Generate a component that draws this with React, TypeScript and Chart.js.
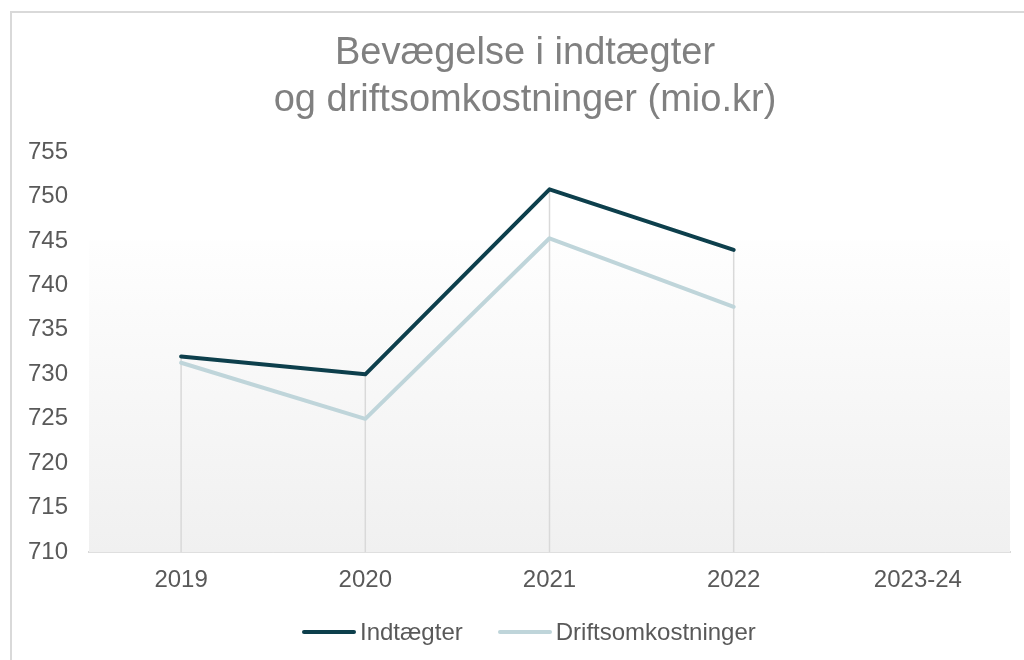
import React, { useEffect, useRef } from "react";
import { Chart, registerables } from "chart.js";

Chart.register(...registerables);

const categories = ["2019", "2020", "2021", "2022", "2023-24"];
const indtaegter = [732, 730, 750.8, 744, null];
const driftsomkostninger = [731.3, 725, 745.3, 737.6, null];
const bandLevel = [745, 745, 745, 745, 745];
const yMin = 710;
const yMax = 755;
const yStep = 5;
const titleLines = ["Bevægelse i indtægter", "og driftsomkostninger (mio.kr)"];
const seriesNames = ["Indtægter", "Driftsomkostninger"];
const seriesColors = ["#0d3f4c", "#bfd5da"];

const FONT = '"Liberation Sans", Arial, sans-serif';

const dropLines = {
  id: "dropLines",
  afterDatasetDraw(chart: any, args: any) {
    if (args.index !== 0) return;
    const ctx = chart.ctx;
    const bottom = chart.scales.y.bottom;
    const n = chart.data.labels.length;
    ctx.save();
    ctx.strokeStyle = "#d9d9d9";
    ctx.lineWidth = 1.5;
    for (let j = 0; j < n; j++) {
      let topY = Infinity;
      let x: number | null = null;
      [1, 2].forEach((di) => {
        const v = chart.data.datasets[di].data[j];
        if (v == null) return;
        const pt = chart.getDatasetMeta(di).data[j];
        topY = Math.min(topY, pt.y);
        x = pt.x;
      });
      if (x == null) continue;
      ctx.beginPath();
      ctx.moveTo(x, topY);
      ctx.lineTo(x, bottom);
      ctx.stroke();
    }
    ctx.restore();
  },
};

// let the y tick labels extend left of the (narrow) y-axis box without being clipped
const widenYLabelArea = {
  id: "widenYLabelArea",
  afterLayout(chart: any) {
    chart.scales.y.left = 0;
  },
};

export default function App() {
  const ref = useRef<HTMLCanvasElement>(null);

  useEffect(() => {
    if (!ref.current) return;
    const chart = new Chart(ref.current, {
      type: "bar",
      data: {
        labels: categories,
        datasets: [
          {
            type: "bar",
            label: "band",
            data: bandLevel,
            order: 3,
            barPercentage: 1,
            categoryPercentage: 1,
            borderWidth: 0,
            backgroundColor: (c: any) => {
              const ch = c.chart;
              const area = ch.chartArea;
              if (!area) return "#f6f6f6";
              const top = ch.scales.y.getPixelForValue(bandLevel[0]);
              const g = ch.ctx.createLinearGradient(0, top, 0, area.bottom);
              g.addColorStop(0, "#fefefe");
              g.addColorStop(1, "#f0f0f0");
              return g;
            },
          } as any,
          {
            type: "line",
            label: seriesNames[0],
            data: indtaegter,
            order: 1,
            borderColor: seriesColors[0],
            backgroundColor: seriesColors[0],
            borderWidth: 4,
            pointRadius: 0,
            borderJoinStyle: "round",
            borderCapStyle: "round",
            tension: 0,
          } as any,
          {
            type: "line",
            label: seriesNames[1],
            data: driftsomkostninger,
            order: 2,
            borderColor: seriesColors[1],
            backgroundColor: seriesColors[1],
            borderWidth: 4,
            pointRadius: 0,
            borderJoinStyle: "round",
            borderCapStyle: "round",
            tension: 0,
          } as any,
        ],
      },
      options: {
        responsive: false,
        animation: false,
        devicePixelRatio: 1,
        layout: { padding: { left: 40, right: 14, top: 0, bottom: 51 } },
        plugins: {
          legend: { display: false },
          tooltip: { enabled: false },
          title: {
            display: true,
            text: titleLines,
            color: "#808080",
            font: { family: FONT, size: 38, weight: "normal", lineHeight: 1.237 },
            padding: { top: 30, bottom: 28 },
          },
        },
        scales: {
          x: {
            offset: true,
            grid: { display: false, drawTicks: false },
            border: { display: true, color: "#d9d9d9", width: 2 },
            ticks: { color: "#595959", font: { family: FONT, size: 24 }, padding: 14 },
          },
          y: {
            min: yMin,
            max: yMax,
            afterFit: (s: any) => {
              s.width = 49;
            },
            grid: { display: false, drawTicks: false },
            border: { display: false },
            ticks: {
              stepSize: yStep,
              color: "#595959",
              font: { family: FONT, size: 24 },
              padding: 21,
            },
          },
        },
      } as any,
      plugins: [dropLines, widenYLabelArea],
    });
    return () => chart.destroy();
  }, []);

  return (
    <div style={{ position: "fixed", inset: 0, overflow: "hidden", background: "#fff" }}>
      <div
        style={{
          position: "absolute",
          left: 10,
          top: 11,
          width: 1100,
          height: 700,
          borderLeft: "2px solid #d9d9d9",
          borderTop: "2px solid #d9d9d9",
        }}
      />
      <canvas
        ref={ref}
        width={1024}
        height={660}
        style={{ position: "absolute", left: 0, top: 0, width: 1024, height: 660 }}
      />
      <div
        style={{
          position: "absolute",
          left: 302,
          top: 618,
          height: 28,
          display: "flex",
          alignItems: "center",
          fontFamily: FONT,
          fontSize: 24,
          lineHeight: "28px",
          color: "#595959",
          whiteSpace: "nowrap",
        }}
      >
        {seriesNames.map((name, i) => (
          <div
            key={name}
            style={{ display: "flex", alignItems: "center", marginRight: i === 0 ? 35 : 0 }}
          >
            <span
              style={{
                display: "inline-block",
                width: 54,
                height: 4,
                borderRadius: 2,
                background: seriesColors[i],
                marginRight: 4,
              }}
            />
            <span>{name}</span>
          </div>
        ))}
      </div>
    </div>
  );
}
